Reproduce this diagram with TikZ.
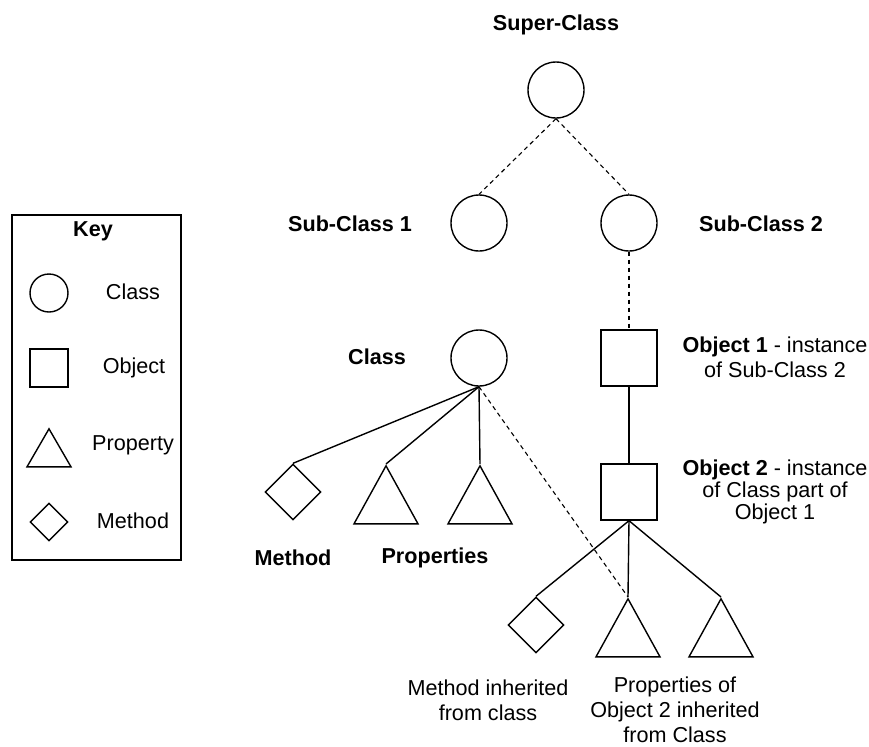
\documentclass[tikz,border=0pt]{standalone}
\usepackage{fontspec}
\setmainfont{Liberation Sans}
\usetikzlibrary{shapes.geometric}
\tikzset{
  cls/.style={draw, circle, line width=0.7pt, inner sep=0pt, minimum size=28pt},
  obj/.style={draw, rectangle, line width=0.7pt, inner sep=0pt, minimum size=28pt},
  prop/.style={draw, isosceles triangle, isosceles triangle stretches, shape border rotate=90, line width=0.7pt, inner sep=0pt, minimum width=32pt, minimum height=29pt, anchor=apex},
  meth/.style={draw, diamond, line width=0.7pt, inner sep=0pt, minimum size=28pt},
  link/.style={line width=0.7pt},
  inherit/.style={line width=0.55pt, dash pattern=on 2.2pt off 1.8pt},
  lbl/.style={font=\fontsize{10.8}{12.5}\selectfont\bfseries},
  txt/.style={align=center},
}
\begin{document}
\begin{tikzpicture}[x=0.5pt,y=-0.5pt,font=\fontsize{10.8}{12.5}\selectfont]
\useasboundingbox (0,0) rectangle (869,746);

% key
\node[draw, line width=0.7pt, minimum width=84.5pt, minimum height=172.5pt, inner sep=0pt] (keybox) at (96.5,387.5) {};
\node[lbl] (keytitle) at (93,231) {Key};
\node[cls, minimum size=19pt] (kcls) at (49,293) {};
\node (kclstxt) at (133,292) {Class};
\node[obj, minimum size=19pt] (kobj) at (49,368) {};
\node (kobjtxt) at (134,368) {Object};
\node[prop, minimum width=22pt, minimum height=19pt] (kprop) at (49,427) {};
\node (kproptxt) at (133,445) {Property};
\node[meth, minimum size=19pt] (kmeth) at (49,522) {};
\node (kmethtxt) at (133,521) {Method};

% classes
\node[cls] (sup) at (556,90) {};
\node[lbl] (suptxt) at (556,25) {Super-Class};
\node[cls] (sub1) at (479,223) {};
\node[lbl] (sub1txt) at (350,224) {Sub-Class 1};
\node[cls] (sub2) at (629,223) {};
\node[lbl] (sub2txt) at (761,224) {Sub-Class 2};
\node[cls] (cl) at (479,358) {};
\node[lbl] (cltxt) at (377,357) {Class};

\node[meth] (m1) at (293,492) {};
\node[prop] (p1) at (386,464) {};
\node[prop] (p2) at (480,464) {};
\node[lbl] (m1txt) at (293,558) {Method};
\node[lbl] (ptxt) at (435,558) {Properties};

% objects
\node[obj] (o1) at (629,358) {};
\node[txt] (o1txt) at (775,357) {\textbf{Object 1} - instance\\of Sub-Class 2};
\node[obj] (o2) at (629,492) {};
\node[txt, font=\fontsize{10.8}{11}\selectfont] (o2txt) at (775,492) {\textbf{Object 2} - instance\\of Class part of\\Object 1};

\node[meth] (m2) at (536,625) {};
\node[prop] (p3) at (628,597) {};
\node[prop] (p4) at (721,597) {};
\node[txt] (m2txt) at (488,700) {Method inherited\\from class};
\node[txt] (p3txt) at (675,710) {Properties of\\Object 2 inherited\\from Class};

% connectors
\draw[inherit] (sup.south) -- (sub1.north);
\draw[inherit] (sup.south) -- (sub2.north);
\draw[inherit] (sub2.south) -- (o1.north);
\draw[link] (o1.south) -- (o2.north);
\draw[link] (cl.south) -- (m1.north);
\draw[link] (cl.south) -- (p1.apex);
\draw[link] (cl.south) -- (p2.apex);
\draw[link] (o2.south) -- (m2.north);
\draw[link] (o2.south) -- (p3.apex);
\draw[link] (o2.south) -- (p4.apex);
\draw[inherit] (cl.south) -- (p3.apex);
\end{tikzpicture}
\end{document}
